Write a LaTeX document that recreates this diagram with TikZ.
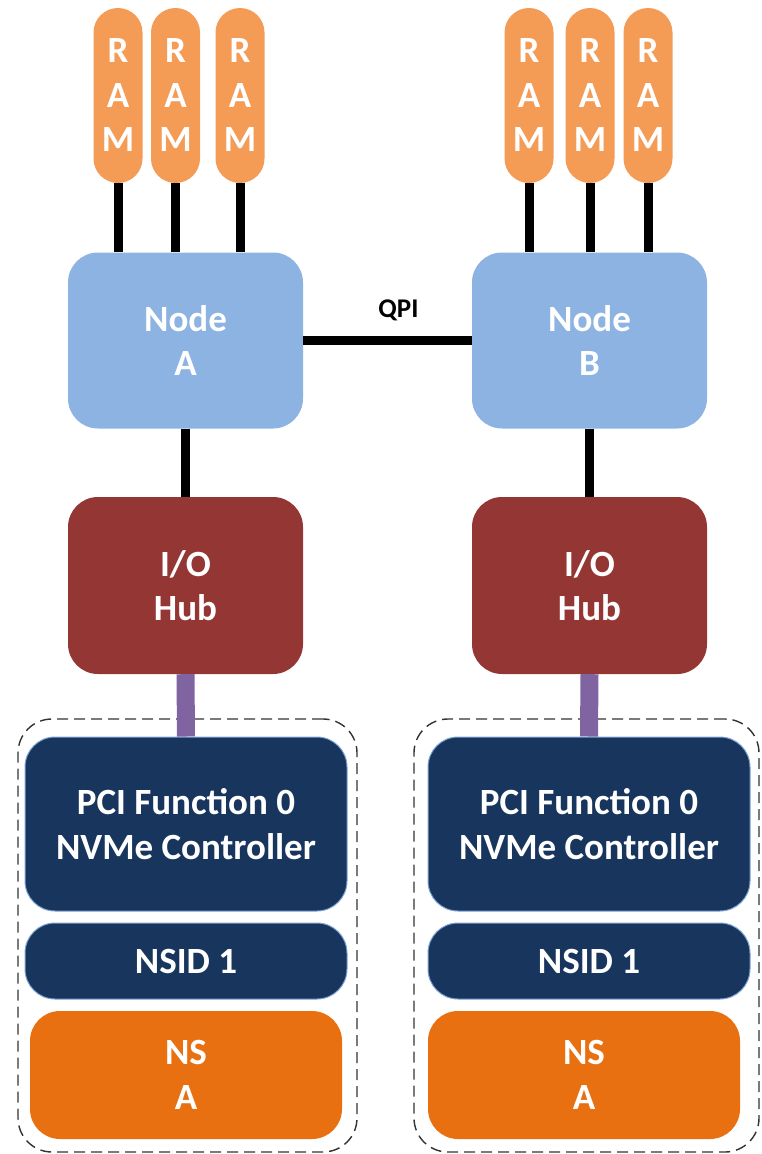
\documentclass[tikz,border=0pt]{standalone}
\usepackage{fontspec}
\setmainfont{Carlito}
\definecolor{ramfill}{HTML}{F49B56}
\definecolor{cpufill}{HTML}{8DB3E2}
\definecolor{hubfill}{HTML}{943634}
\definecolor{pcilink}{HTML}{8064A2}
\definecolor{ctrlfill}{HTML}{18365D}
\definecolor{ctrledge}{HTML}{7FA3D6}
\definecolor{nsfill}{HTML}{E87011}
\definecolor{groupedge}{HTML}{333333}
\newcommand{\labelfont}{\fontsize{37}{44.5}\selectfont\bfseries}
\newcommand{\qpifont}{\fontsize{27}{30}\selectfont\bfseries}
\tikzset{
  block/.style={rectangle, inner sep=0pt, align=center, text=white, font=\labelfont},
  rampill/.style={block, fill=ramfill, rounded corners=24.5pt, minimum width=49pt, minimum height=175pt},
  cpubox/.style={block, fill=cpufill, rounded corners=30pt, minimum width=235pt, minimum height=176pt},
  hubbox/.style={block, fill=hubfill, rounded corners=30pt, minimum width=235pt, minimum height=177pt},
  ctrlbox/.style={block, fill=ctrlfill, draw=ctrledge, line width=1pt, rounded corners=30pt},
  nsbox/.style={block, fill=nsfill, rounded corners=30pt, minimum width=312pt, minimum height=128pt},
  groupbox/.style={rectangle, draw=groupedge, line width=1.4pt, dash pattern=on 11pt off 6pt, rounded corners=34pt},
  memlink/.style={line width=9pt, black},
  qpilink/.style={line width=9pt, black},
  iolink/.style={line width=9pt, black},
  pcielink/.style={line width=18pt, pcilink},
}
\begin{document}
\begin{tikzpicture}[x=1pt, y=-1pt]
\useasboundingbox (0,0) rectangle (761,1154);

% device groups (dashed outlines)
\node[groupbox, minimum width=339pt, minimum height=433pt] (ga) at (187.5,935.5) {};
\node[groupbox, minimum width=345pt, minimum height=433pt] (gb) at (586.5,935.5) {};

% memory modules
\node[rampill] (ra1) at (118,95.5) {R\\A\\M};
\node[rampill] (ra2) at (175.5,95.5) {R\\A\\M};
\node[rampill] (ra3) at (240,95.5) {R\\A\\M};
\node[rampill] (rb1) at (529,95.5) {R\\A\\M};
\node[rampill] (rb2) at (590,95.5) {R\\A\\M};
\node[rampill] (rb3) at (648,95.5) {R\\A\\M};

% processor nodes
\node[cpubox] (na) at (185.5,340.5) {Node\\A};
\node[cpubox] (nb) at (589.5,340.5) {Node\\B};

% I/O hubs
\node[hubbox] (ha) at (185.5,585.5) {I/O\\Hub};
\node[hubbox] (hb) at (589.5,585.5) {I/O\\Hub};

% NVMe controllers
\node[ctrlbox, minimum width=322pt, minimum height=174pt] (pa) at (186,824) {PCI Function 0\\NVMe Controller};
\node[ctrlbox, minimum width=322pt, minimum height=174pt] (pb) at (589,824) {PCI Function 0\\NVMe Controller};
\node[ctrlbox, minimum width=322pt, minimum height=76pt] (ia) at (186,961) {NSID 1};
\node[ctrlbox, minimum width=322pt, minimum height=76pt] (ib) at (589,961) {NSID 1};

% namespaces
\node[nsbox] (sa) at (186,1075) {NS\\A};
\node[nsbox] (sb) at (584,1075) {NS\\A};

% memory channels
\foreach \r/\n in {ra1/na, ra2/na, ra3/na, rb1/nb, rb2/nb, rb3/nb}
  \draw[memlink] (\r.south) -- (\r.south |- \n.north);

% inter-socket link
\draw[qpilink] (na.east) -- (nb.west)
  node[midway, above=12pt, xshift=11pt, font=\qpifont, text=black] (qpi) {QPI};

% hub and PCIe links
\draw[iolink] (na.south) -- (ha.north);
\draw[iolink] (nb.south) -- (hb.north);
\draw[pcielink] (ha.south) -- (pa.north);
\draw[pcielink] (hb.south) -- (pb.north);
\end{tikzpicture}
\end{document}
